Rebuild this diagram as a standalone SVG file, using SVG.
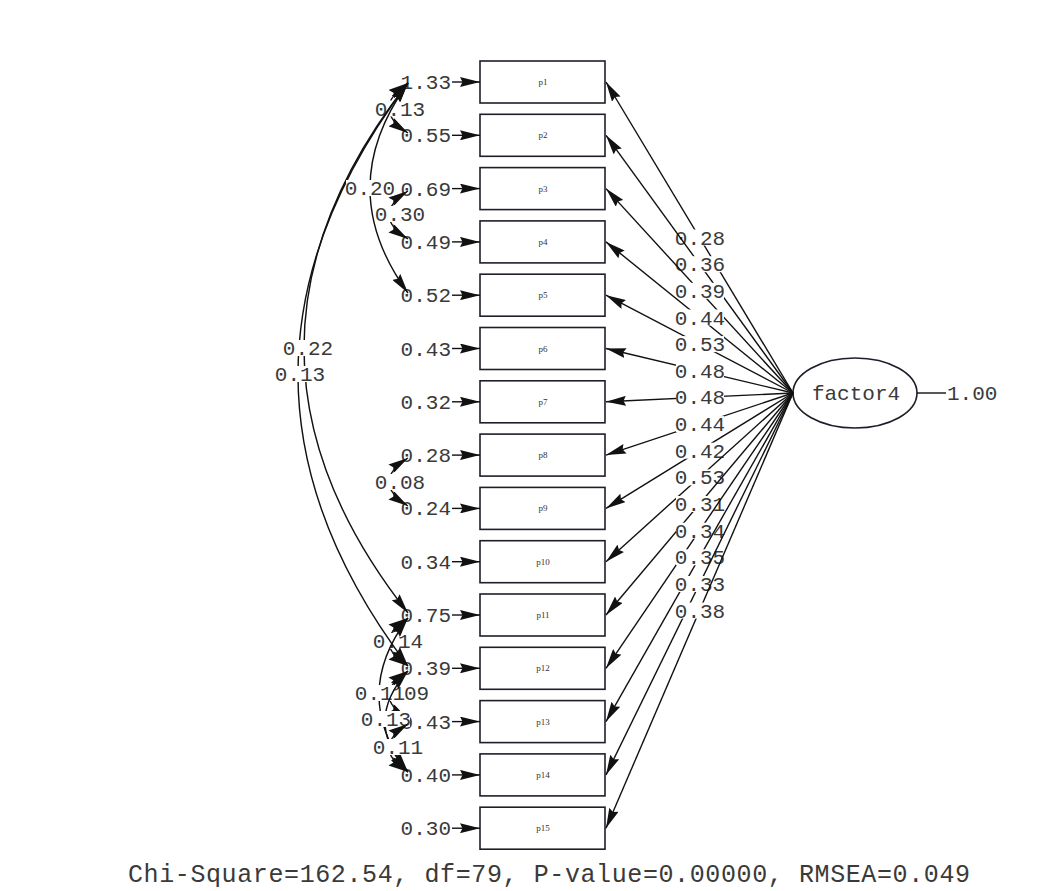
<svg xmlns="http://www.w3.org/2000/svg" width="1057" height="891" viewBox="0 0 1057 891">
  <style>
    .box { fill: #ffffff; stroke: #1e1e2a; stroke-width: 1.6; }
    .bl { font-family: "Liberation Serif", serif; font-size: 9px; fill: #333; text-anchor: middle; }
    .num { font-family: "Liberation Mono", "Courier New", monospace; font-size: 21px; fill: #3a3a3a; }
    .var { text-anchor: end; }
    .mid { text-anchor: middle; }
    .bg { fill: #ffffff; }
    .ln { fill: none; stroke: #111; stroke-width: 1.4; }
    .arr { marker-end: url(#ah); }
    .dbl { marker-start: url(#ah); marker-end: url(#ah); }
    .fit { font-family: "Liberation Mono", "Courier New", monospace; font-size: 25px; fill: #3a3a3a; }
  </style>
  <defs>
    <marker id="ah" viewBox="0 0 20 10" refX="20" refY="5" markerWidth="20" markerHeight="10" markerUnits="userSpaceOnUse" orient="auto-start-reverse">
      <path d="M0,0 L20,5 L0,10 L2.5,5 z" fill="#111"/>
    </marker>
    <symbol id="obs" overflow="visible">
      <rect class="box" x="480" y="-21" width="125" height="42"/>
    </symbol>
  </defs>
  <rect width="1057" height="891" fill="#ffffff"/>

  <!-- observed indicators with error variances -->
  <g id="p1" transform="translate(0,82)"><use href="#obs"/><text class="bl" x="543" y="3">p1</text><text class="num var" x="451" y="7">1.33</text><line class="ln arr" x1="452" y1="0" x2="480" y2="0"/></g>
  <g id="p2" transform="translate(0,135.3)"><use href="#obs"/><text class="bl" x="543" y="3">p2</text><text class="num var" x="451" y="7">0.55</text><line class="ln arr" x1="452" y1="0" x2="480" y2="0"/></g>
  <g id="p3" transform="translate(0,188.6)"><use href="#obs"/><text class="bl" x="543" y="3">p3</text><text class="num var" x="451" y="7">0.69</text><line class="ln arr" x1="452" y1="0" x2="480" y2="0"/></g>
  <g id="p4" transform="translate(0,241.9)"><use href="#obs"/><text class="bl" x="543" y="3">p4</text><text class="num var" x="451" y="7">0.49</text><line class="ln arr" x1="452" y1="0" x2="480" y2="0"/></g>
  <g id="p5" transform="translate(0,295.2)"><use href="#obs"/><text class="bl" x="543" y="3">p5</text><text class="num var" x="451" y="7">0.52</text><line class="ln arr" x1="452" y1="0" x2="480" y2="0"/></g>
  <g id="p6" transform="translate(0,348.5)"><use href="#obs"/><text class="bl" x="543" y="3">p6</text><text class="num var" x="451" y="7">0.43</text><line class="ln arr" x1="452" y1="0" x2="480" y2="0"/></g>
  <g id="p7" transform="translate(0,401.8)"><use href="#obs"/><text class="bl" x="543" y="3">p7</text><text class="num var" x="451" y="7">0.32</text><line class="ln arr" x1="452" y1="0" x2="480" y2="0"/></g>
  <g id="p8" transform="translate(0,455.1)"><use href="#obs"/><text class="bl" x="543" y="3">p8</text><text class="num var" x="451" y="7">0.28</text><line class="ln arr" x1="452" y1="0" x2="480" y2="0"/></g>
  <g id="p9" transform="translate(0,508.4)"><use href="#obs"/><text class="bl" x="543" y="3">p9</text><text class="num var" x="451" y="7">0.24</text><line class="ln arr" x1="452" y1="0" x2="480" y2="0"/></g>
  <g id="p10" transform="translate(0,561.7)"><use href="#obs"/><text class="bl" x="543" y="3">p10</text><text class="num var" x="451" y="7">0.34</text><line class="ln arr" x1="452" y1="0" x2="480" y2="0"/></g>
  <g id="p11" transform="translate(0,615)"><use href="#obs"/><text class="bl" x="543" y="3">p11</text><text class="num var" x="451" y="7">0.75</text><line class="ln arr" x1="452" y1="0" x2="480" y2="0"/></g>
  <g id="p12" transform="translate(0,668.3)"><use href="#obs"/><text class="bl" x="543" y="3">p12</text><text class="num var" x="451" y="7">0.39</text><line class="ln arr" x1="452" y1="0" x2="480" y2="0"/></g>
  <g id="p13" transform="translate(0,721.6)"><use href="#obs"/><text class="bl" x="543" y="3">p13</text><text class="num var" x="451" y="7">0.43</text><line class="ln arr" x1="452" y1="0" x2="480" y2="0"/></g>
  <g id="p14" transform="translate(0,774.9)"><use href="#obs"/><text class="bl" x="543" y="3">p14</text><text class="num var" x="451" y="7">0.40</text><line class="ln arr" x1="452" y1="0" x2="480" y2="0"/></g>
  <g id="p15" transform="translate(0,828.2)"><use href="#obs"/><text class="bl" x="543" y="3">p15</text><text class="num var" x="451" y="7">0.30</text><line class="ln arr" x1="452" y1="0" x2="480" y2="0"/></g>

  <!-- latent factor -->
  <g id="factor4">
    <ellipse cx="855" cy="393" rx="62" ry="35" fill="#ffffff" stroke="#1e1e2a" stroke-width="1.6"/>
    <text class="num mid" x="856" y="400" font-size="22">factor4</text>
    <line class="ln" x1="917" y1="393" x2="946" y2="393"/>
    <text class="num" x="947" y="400" font-size="22">1.00</text>
  </g>

  <!-- connectors: loadings and error covariances -->
  <g id="connectors">
    <path class="ln arr" d="M793,393 L606,82"/><rect class="bg" x="676" y="229.5" width="48" height="16"/><text class="num mid" x="700" y="244.5">0.28</text>
    <path class="ln arr" d="M793,393 L606,135.3"/><rect class="bg" x="676" y="256.2" width="48" height="16"/><text class="num mid" x="700" y="271.2">0.36</text>
    <path class="ln arr" d="M793,393 L606,188.6"/><rect class="bg" x="676" y="282.8" width="48" height="16"/><text class="num mid" x="700" y="297.8">0.39</text>
    <path class="ln arr" d="M793,393 L606,241.9"/><rect class="bg" x="676" y="309.5" width="48" height="16"/><text class="num mid" x="700" y="324.5">0.44</text>
    <path class="ln arr" d="M793,393 L606,295.2"/><rect class="bg" x="676" y="336.1" width="48" height="16"/><text class="num mid" x="700" y="351.1">0.53</text>
    <path class="ln arr" d="M793,393 L606,348.5"/><rect class="bg" x="676" y="362.8" width="48" height="16"/><text class="num mid" x="700" y="377.8">0.48</text>
    <path class="ln arr" d="M793,393 L606,401.8"/><rect class="bg" x="676" y="389.4" width="48" height="16"/><text class="num mid" x="700" y="404.4">0.48</text>
    <path class="ln arr" d="M793,393 L606,455.1"/><rect class="bg" x="676" y="416.1" width="48" height="16"/><text class="num mid" x="700" y="431.1">0.44</text>
    <path class="ln arr" d="M793,393 L606,508.4"/><rect class="bg" x="676" y="442.7" width="48" height="16"/><text class="num mid" x="700" y="457.7">0.42</text>
    <path class="ln arr" d="M793,393 L606,561.7"/><rect class="bg" x="676" y="469.4" width="48" height="16"/><text class="num mid" x="700" y="484.4">0.53</text>
    <path class="ln arr" d="M793,393 L606,615"/><rect class="bg" x="676" y="496" width="48" height="16"/><text class="num mid" x="700" y="511">0.31</text>
    <path class="ln arr" d="M793,393 L606,668.3"/><rect class="bg" x="676" y="522.7" width="48" height="16"/><text class="num mid" x="700" y="537.7">0.34</text>
    <path class="ln arr" d="M793,393 L606,721.6"/><rect class="bg" x="676" y="549.3" width="48" height="16"/><text class="num mid" x="700" y="564.3">0.35</text>
    <path class="ln arr" d="M793,393 L606,774.9"/><rect class="bg" x="676" y="576" width="48" height="16"/><text class="num mid" x="700" y="591">0.33</text>
    <path class="ln arr" d="M793,393 L606,828.2"/><rect class="bg" x="676" y="602.6" width="48" height="16"/><text class="num mid" x="700" y="617.6">0.38</text>

    <!-- short covariance arcs between neighbouring errors -->
    <path class="ln dbl" d="M408,83 Q370,108.5 408,133"/><rect class="bg" x="376" y="100.5" width="48" height="16"/><text class="num mid" x="400" y="115.5">0.13</text>
    <path class="ln dbl" d="M408,191 Q370,215 408,239"/><rect class="bg" x="376" y="206" width="48" height="16"/><text class="num mid" x="400" y="221">0.30</text>
    <path class="ln dbl" d="M408,458 Q370,482 408,506"/><rect class="bg" x="376" y="474" width="48" height="16"/><text class="num mid" x="400" y="489">0.08</text>
    <path class="ln dbl" d="M408,618 Q370,642 408,666"/><rect class="bg" x="374" y="633" width="48" height="16"/><text class="num mid" x="398" y="648">0.14</text>
    <path class="ln dbl" d="M408,671 Q370,695 408,719"/><rect class="bg" x="380" y="685" width="48" height="16"/><text class="num mid" x="404" y="700">0.09</text>
    <path class="ln dbl" d="M408,618 Q350,695 408,772"/><rect class="bg" x="356" y="685" width="48" height="16"/><text class="num mid" x="380" y="700">0.11</text>
    <path class="ln dbl" d="M408,671 Q362,721.6 408,772"/><rect class="bg" x="362" y="711" width="48" height="16"/><text class="num mid" x="386" y="726">0.13</text>
    <path class="ln dbl" d="M408,724 Q370,748 408,772"/><rect class="bg" x="374" y="739" width="48" height="16"/><text class="num mid" x="398" y="754">0.11</text>

    <!-- long covariance arcs from p1 -->
    <path class="ln dbl" d="M408,83 Q332,188.5 408,293"/>
    <path class="ln dbl" d="M408,83 Q200,348.5 408,613"/>
    <path class="ln dbl" d="M408,83 Q188,375 408,666"/>
    <rect class="bg" x="346" y="180" width="48" height="16"/><text class="num mid" x="370" y="195">0.20</text>
    <rect class="bg" x="284" y="340" width="48" height="16"/><text class="num mid" x="308" y="355">0.22</text>
    <rect class="bg" x="276" y="366" width="48" height="16"/><text class="num mid" x="300" y="381">0.13</text>
  </g>

  <!-- fit statistics -->
  <text class="fit" x="128" y="882" textLength="842" lengthAdjust="spacing">Chi-Square=162.54, df=79, P-value=0.00000, RMSEA=0.049</text>
</svg>
